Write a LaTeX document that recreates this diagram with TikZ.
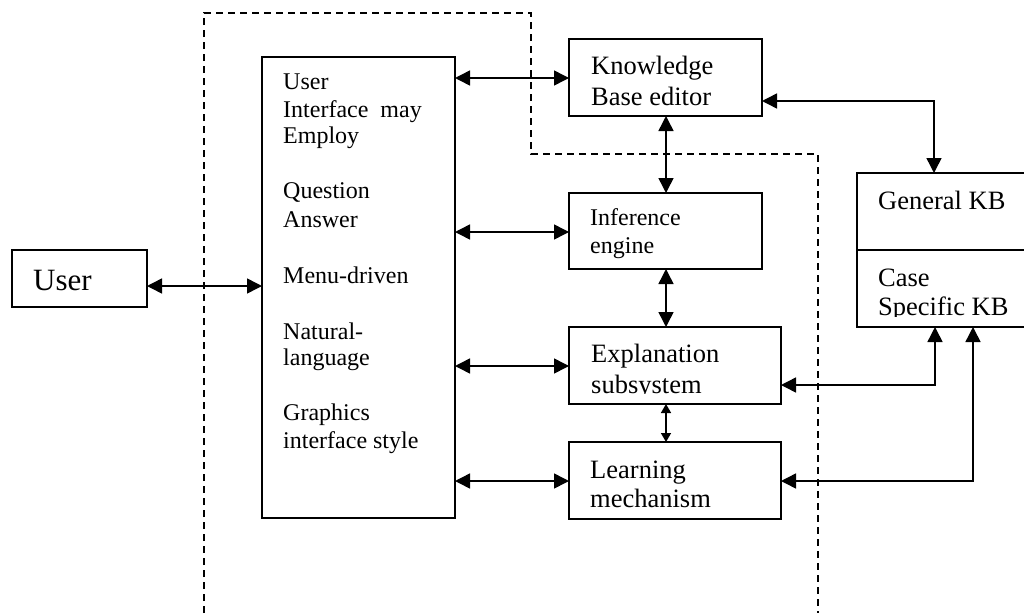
\documentclass[tikz,border=0pt]{standalone}
\usepackage{fontspec}
\setmainfont{Liberation Serif}
\usetikzlibrary{arrows.meta}
\begin{document}
\begin{tikzpicture}[x=1pt,y=-1pt,
  box/.style={draw,line width=1.6pt,inner sep=0pt,outer sep=0pt,anchor=north west},
  uitxt/.style={inner sep=0pt,anchor=base west,font=\fontsize{24}{28}\selectfont},
  rtxt/.style={inner sep=0pt,anchor=base west,font=\fontsize{26.5}{30}\selectfont},
  itxt/.style={inner sep=0pt,anchor=base west,font=\fontsize{24}{28}\selectfont},
  usertxt/.style={inner sep=0pt,anchor=base west,font=\fontsize{31}{34}\selectfont},
  arr/.style={line width=1.5pt,{Triangle[length=15pt,width=15pt]}-{Triangle[length=15pt,width=15pt]}},
  sarr/.style={line width=1.5pt,{Triangle[length=9pt,width=10pt]}-{Triangle[length=9pt,width=10pt]}},
  garr/.style={line width=1.5pt,{Triangle[length=15pt,width=15pt]}-{Triangle[length=15pt,width=15pt]}},
  dashline/.style={line width=1.5pt,dash pattern=on 7pt off 5pt}]
\useasboundingbox (0,0) rectangle (1024,613);

% dashed boundary
\draw[dashline] (204,613) -- (204,13) -- (531,13) -- (531,154) -- (818,154) -- (818,613);

% boxes
\node[box,minimum width=135pt,minimum height=57pt] (user) at (12,250) {};
\node[box,minimum width=193pt,minimum height=461pt] (ui) at (262,57) {};
\node[box,minimum width=193pt,minimum height=77pt] (kbe) at (569,39) {};
\node[box,minimum width=193pt,minimum height=76pt] (inf) at (569,193) {};
\node[box,minimum width=212pt,minimum height=77pt] (expl) at (569,327) {};
\node[box,minimum width=212pt,minimum height=77pt] (learn) at (569,442) {};
\node[box,minimum width=180pt,minimum height=77pt] (genkb) at (857,173) {};
\node[box,minimum width=180pt,minimum height=77pt] (casekb) at (857,250) {};

% texts
\node[usertxt] (tuser) at (33,290) {User};

\node[uitxt] (u1) at (283,89) {User};
\node[uitxt] (u2) at (283,117) {Interface\ \ may};
\node[uitxt] (u3) at (283,143) {Employ};
\node[uitxt] (u4) at (283,198) {Question};
\node[uitxt] (u5) at (283,227) {Answer};
\node[uitxt] (u6) at (283,283) {Menu-driven};
\node[uitxt] (u7) at (283,339) {Natural-};
\node[uitxt] (u8) at (283,365) {language};
\node[uitxt] (u9) at (283,420) {Graphics};
\node[uitxt] (u10) at (283,448) {interface style};

\node[rtxt] (k1) at (591,74) {Knowledge};
\node[rtxt] (k2) at (591,105) {Base editor};

\node[itxt] (i1) at (590,225) {Inference};
\node[itxt] (i2) at (590,253) {engine};

\node[rtxt] (e1) at (591,362) {Explanation};
\begin{scope}
  \clip (569,327) rectangle (781,393.5);
  \node[rtxt] (e2) at (591,393) {subsystem};
\end{scope}

\node[rtxt] (l1) at (590,478) {Learning};
\node[rtxt] (l2) at (590,507) {mechanism};

\node[rtxt] (g1) at (878,209) {General KB};
\node[rtxt] (c1) at (878,286) {Case};
\begin{scope}
  \clip (857,250) rectangle (1024,316);
  \node[rtxt] (c2) at (878,315) {Specific KB};
\end{scope}

% connectors
\draw[arr] (user.east |- 0,286) -- (ui.west |- 0,286);
\draw[arr] (ui.east |- 0,78) -- (kbe.west |- 0,78);
\draw[arr] (ui.east |- 0,232) -- (inf.west |- 0,232);
\draw[arr] (ui.east |- 0,366) -- (expl.west |- 0,366);
\draw[arr] (ui.east |- 0,481) -- (learn.west |- 0,481);

\draw[arr] (kbe.south -| 666,0) -- (inf.north -| 666,0);
\draw[arr] (inf.south -| 666,0) -- (expl.north -| 666,0);
\draw[sarr] (expl.south -| 666,0) -- (learn.north -| 666,0);

\draw[garr] (kbe.east |- 0,101) -- (934,101) -- (genkb.north -| 934,0);
\draw[garr] (expl.east |- 0,385) -- (935,385) -- (casekb.south -| 935,0);
\draw[garr] (learn.east |- 0,481) -- (973,481) -- (casekb.south -| 973,0);
\end{tikzpicture}
\end{document}
